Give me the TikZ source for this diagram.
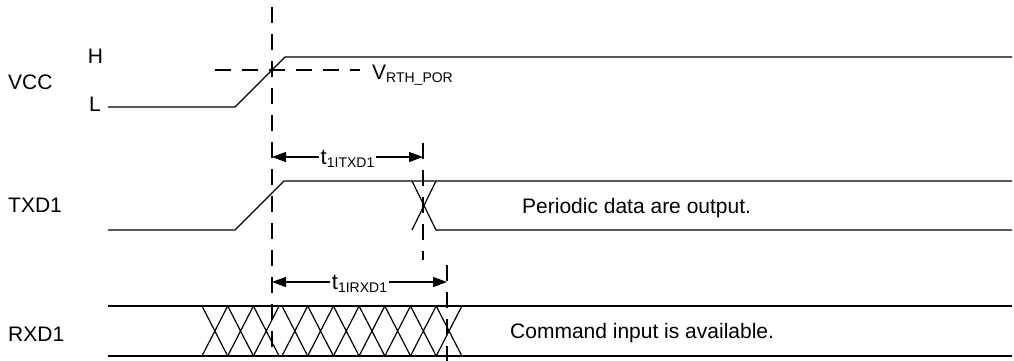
\documentclass[tikz,border=0pt]{standalone}
\usepackage{fontspec}
\setmainfont{Liberation Sans}
\usetikzlibrary{arrows.meta}
\def\sub#1{\raisebox{-3pt}{\fontsize{14}{14}\selectfont #1}}

\begin{document}
\begin{tikzpicture}[
    x=1pt, y=-1pt,
    >={Triangle[length=14pt, width=10pt]},
    wave/.style={line width=1.2pt},
    marker/.style={line width=1.9pt, dash pattern=on 16pt off 11pt},
    sigName/.style={font=\fontsize{21}{24}\selectfont, anchor=west, inner sep=0pt},
    levelName/.style={font=\fontsize{21}{24}\selectfont, inner sep=0pt},
    note/.style={font=\fontsize{21}{24}\selectfont, anchor=base west, inner sep=0pt},
    timing/.style={font=\fontsize{22}{24}\selectfont, fill=white, inner sep=2pt, yshift=-2pt},
  ]
  \useasboundingbox (0,0) rectangle (1014,361);
  % signal names
  \node[sigName] (vccN) at (8,82) {VCC};
  \node[sigName] (txdN) at (8,205.5) {TXD1};
  \node[sigName] (rxdN) at (8,334.5) {RXD1};
  \node[levelName] (hiN) at (95.5,56) {H};
  \node[levelName] (loN) at (95,104) {L};
  % waveforms
  \draw[wave] (108,107) -- (235,107) -- (285,57) -- (1012,57);
  \draw[wave] (108,230) -- (235,230) -- (284,181) -- (1012,181);
  \draw[wave] (412,181) -- (436,230) -- (1012,230);
  \draw[wave] (436,181) -- (412,230);
  \draw[wave] (108,306) -- (1012,306);
  \draw[wave] (108,356) -- (1012,356);
  \foreach \x in {202,227.7,253.4}
    \draw[wave] (\x,306) -- (\x+25.7,356) (\x,356) -- (\x+25.7,306);
  \foreach \i in {0,...,6}
    \draw[wave] (282+\i*25.7,306) -- (307.7+\i*25.7,356)
                (282+\i*25.7,356) -- (307.7+\i*25.7,306);
  % markers
  \coordinate (porTop) at (272,7);
  \coordinate (porBot) at (272,353);
  \coordinate (txdTop) at (423,143);
  \coordinate (txdBot) at (423,260);
  \coordinate (rxdTop) at (447,265);
  \coordinate (rxdBot) at (447,361);
  \coordinate (thL) at (215,70);
  \coordinate (thR) at (360,70);
  \draw[marker] (porTop) -- (porBot);
  \draw[marker] (txdTop) -- (txdBot);
  \draw[marker] (rxdTop) -- (rxdBot);
  \draw[marker] (thL) -- (thR);
  \node[note] (thN) at (372,79) {V\sub{RTH\_POR}};
  % timings
  \draw[wave, <->] (porTop |- 0,157) -- node[timing] (txdT) {t\sub{1ITXD1}} (txdTop |- 0,157);
  \draw[wave, <->] (porTop |- 0,282) -- node[timing] (rxdT) {t\sub{1IRXD1}} (rxdTop |- 0,282);
  % notes
  \node[note] (txdNote) at (522,213) {Periodic data are output.};
  \node[note] (rxdNote) at (510,338) {Command input is available.};
\end{tikzpicture}
\end{document}
